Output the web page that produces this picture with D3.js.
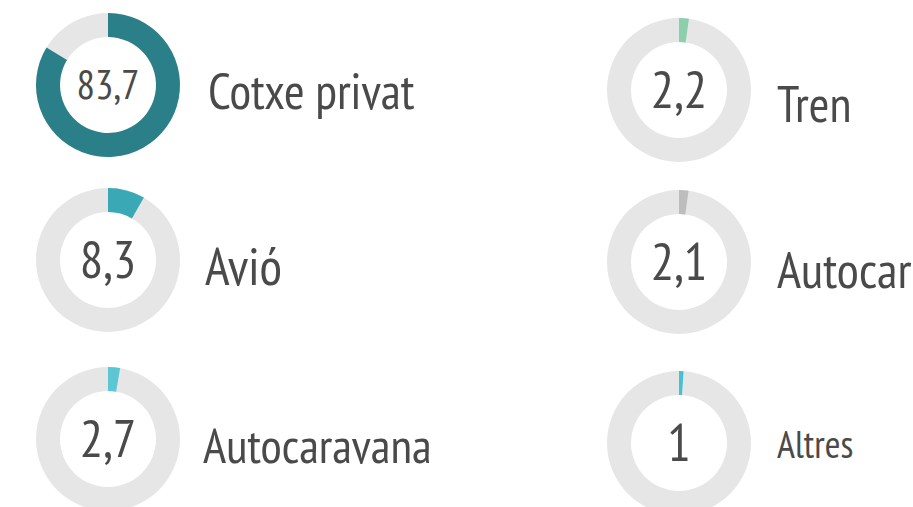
<!DOCTYPE html>
<html>
<head>
<meta charset="utf-8">
<script src="https://cdn.jsdelivr.net/npm/d3@7"></script>
<style>
  html, body { margin: 0; padding: 0; background: #fff; }
  svg { display: block; }
  .lbl, .num { font-family: "PT Sans Narrow", "Liberation Sans Narrow", "DejaVu Sans Condensed", "Roboto Condensed", sans-serif; fill: #4a4a4a; }
</style>
</head>
<body>
<svg id="chart" width="913" height="507"></svg>
<script>
// ---- data ----
const categories = ["Cotxe privat", "Avió", "Autocaravana", "Tren", "Autocar", "Altres"];
const values = [83.7, 8.3, 2.7, 2.2, 2.1, 1];
const colors = ["#2b7f88", "#3aa8b5", "#5cc6d4", "#8ccfac", "#bdbdbd", "#45c0d4"];

// ---- layout ----
const colX = [108, 679];
const rowY = [[85, 260, 439], [90, 262, 443]];
const labelDX = [[100, 97, 95], [98, 98, 98]];
const labelDY = [[24, 25, 24], [32, 26, 15]];
const labelSize = [[50, 52, 49], [50, 51, 38]];
const outerR = 72, innerR = 48;

const svg = d3.select("#chart");
const locale = d3.formatLocale({ decimal: ",", thousands: ".", grouping: [3], currency: ["", "€"] });
const fmt = v => locale.format("~f")(v);

const angle = d3.scaleLinear().domain([0, 100]).range([0, 2 * Math.PI]);
const arc = d3.arc().innerRadius(innerR).outerRadius(outerR);

categories.forEach((cat, i) => {
  const col = i < 3 ? 0 : 1, row = i % 3;
  const g = svg.append("g").attr("transform", `translate(${colX[col]},${rowY[col][row]})`);
  g.append("path").attr("d", arc({ startAngle: 0, endAngle: 2 * Math.PI })).attr("fill", "#e6e6e6");
  g.append("path").attr("d", arc({ startAngle: 0, endAngle: angle(values[i]) })).attr("fill", colors[i]);
  const txt = fmt(values[i]);
  g.append("text").attr("class", "num")
    .attr("text-anchor", "middle").attr("dy", "0.35em")
    .attr("font-size", txt.length > 3 ? 41 : 52)
    .text(txt);
  g.append("text").attr("class", "lbl")
    .attr("x", labelDX[col][row]).attr("y", labelDY[col][row])
    .attr("font-size", labelSize[col][row])
    .text(cat);
});
</script>
</body>
</html>
